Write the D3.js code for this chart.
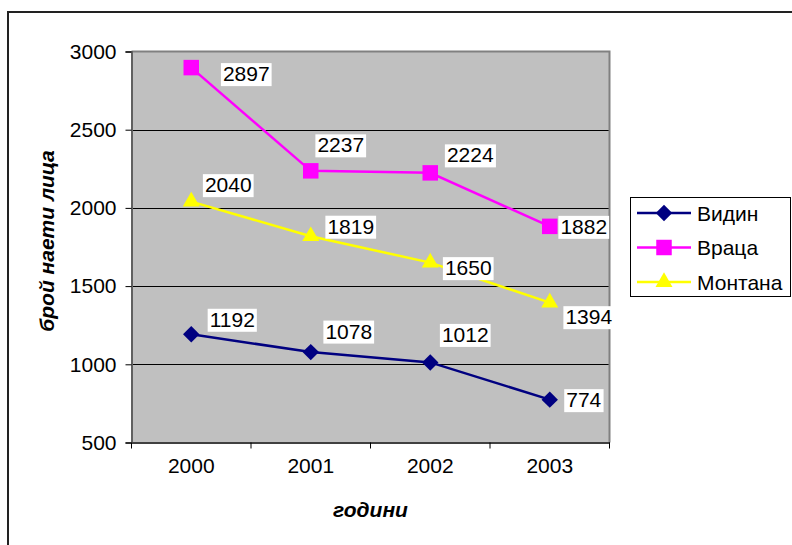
<!DOCTYPE html>
<html><head><meta charset="utf-8">
<script src="https://cdn.jsdelivr.net/npm/d3@7"></script>
<style>body{margin:0;background:#fff}svg{display:block;font-family:Arial,"Liberation Sans",sans-serif}</style>
</head><body><svg id="c" width="792" height="545"></svg>
<script>
const years = ["2000","2001","2002","2003"];
const seriesNames = ["Видин","Враца","Монтана"];
const vidin = [1192,1078,1012,774];
const vratsa = [2897,2237,2224,1882];
const montana = [2040,1819,1650,1394];
const yTicks = [500,1000,1500,2000,2500,3000];
const xTitle = "години";
const yTitle = "брой наети лица";

// layout-only: label nudges relative to each point (dx, dy)
const labelNudge = [
  [[41,-15],[38,-21],[35,-28],[34,0]],
  [[55,6],[30,-26],[40,-18],[34,0]],
  [[37,-17],[40,-10],[38,5],[39,14]]
];
const colors = ["#000080","#FF00FF","#FFFF00"];
const shapes = [d3.symbolSquare, d3.symbolSquare, d3.symbolTriangle];
const symSize = [135, 240, 125];
const symRot = [45, 0, 0];
const seriesData = [vidin, vratsa, montana];

const svg = d3.select("#c");
svg.append("rect").attr("x",8).attr("y",12).attr("width",820).attr("height",600)
  .attr("fill","#fff").attr("stroke","#222").attr("stroke-width",2);

const L=131.5, R=609.5, T=51.5, B=442.5;
const x = d3.scaleBand().domain(years).range([L,R]);
const y = d3.scaleLinear().domain([500,3000]).range([B,T]);

svg.append("rect").attr("x",L).attr("y",T).attr("width",R-L).attr("height",B-T).attr("fill","#C0C0C0");
svg.append("g").selectAll("line").data(yTicks.slice(1,-1)).join("line")
  .attr("x1",L).attr("x2",R).attr("y1",d=>Math.round(y(d))+0.5).attr("y2",d=>Math.round(y(d))+0.5)
  .attr("stroke","#000").attr("stroke-width",1);
svg.append("path").attr("d",`M${L},${T}H${R}V${B}`).attr("fill","none").attr("stroke","#808080").attr("stroke-width",2);

const yAxis = svg.append("g").attr("transform",`translate(${L},0)`)
  .call(d3.axisLeft(y).tickValues(yTicks).tickSize(6).tickPadding(9).tickFormat(d3.format("d")));
yAxis.select(".domain").attr("stroke","#606060").attr("stroke-width",2);
yAxis.selectAll(".tick line").attr("stroke","#000");
yAxis.selectAll("text").attr("font-size",21).attr("fill","#000").attr("font-family","Arial, Liberation Sans");

const xAxis = svg.append("g").attr("transform",`translate(0,${B})`)
  .call(d3.axisBottom(x).tickSize(0).tickPadding(16));
xAxis.select(".domain").attr("stroke","#404040").attr("stroke-width",2);
xAxis.selectAll("text").attr("font-size",21).attr("fill","#000").attr("font-family","Arial, Liberation Sans");
const bounds = years.map(d=>x(d)).concat([R]);
svg.append("g").selectAll("line").data(bounds).join("line")
  .attr("x1",d=>d).attr("x2",d=>d).attr("y1",B).attr("y2",B+6).attr("stroke","#000");

svg.append("text").attr("x",(L+R)/2).attr("y",517).attr("text-anchor","middle")
  .attr("font-size",21).attr("font-weight","bold").attr("font-style","italic").text(xTitle);
svg.append("text").attr("transform",`translate(54,${(T+B)/2-6}) rotate(-90)`).attr("text-anchor","middle")
  .attr("font-size",21).attr("font-weight","bold").attr("font-style","italic").text(yTitle);

const cx = d=>x(d)+x.bandwidth()/2;
const line = d3.line().x((v,i)=>cx(years[i])).y(v=>y(v));

seriesData.forEach((vals,si)=>{
  const g = svg.append("g");
  g.append("path").attr("d",line(vals)).attr("fill","none").attr("stroke",colors[si]).attr("stroke-width",2.5);
  g.selectAll("path.m").data(vals).join("path").attr("class","m")
    .attr("transform",(v,i)=>`translate(${cx(years[i])},${y(v)}) rotate(${symRot[si]})`)
    .attr("d",d3.symbol().type(shapes[si]).size(symSize[si])).attr("fill",colors[si]);
});
seriesData.forEach((vals,si)=>{
  vals.forEach((v,i)=>{
    const px = cx(years[i])+labelNudge[si][i][0], py = y(v)+labelNudge[si][i][1];
    const g = svg.append("g");
    const r = g.append("rect").attr("fill","#fff");
    const t = g.append("text").attr("x",px).attr("y",py).attr("text-anchor","middle")
      .attr("dominant-baseline","central").attr("font-size",21).text(v);
    const bb = t.node().getBBox();
    r.attr("x",bb.x-2).attr("y",bb.y+1).attr("width",bb.width+4).attr("height",bb.height);
  });
});

const lg = svg.append("g");
lg.append("rect").attr("x",630.5).attr("y",197.5).attr("width",160).attr("height",99)
  .attr("fill","#fff").attr("stroke","#000").attr("stroke-width",1);
seriesNames.forEach((n,si)=>{
  const yy = 213 + si*34.5;
  lg.append("line").attr("x1",637).attr("x2",691).attr("y1",yy).attr("y2",yy).attr("stroke",colors[si]).attr("stroke-width",2.5);
  lg.append("path").attr("transform",`translate(664,${yy}) rotate(${symRot[si]})`).attr("d",d3.symbol().type(shapes[si]).size(symSize[si])).attr("fill",colors[si]);
  lg.append("text").attr("x",697).attr("y",yy).attr("dominant-baseline","central").attr("font-size",21).text(n);
});
</script></body></html>
